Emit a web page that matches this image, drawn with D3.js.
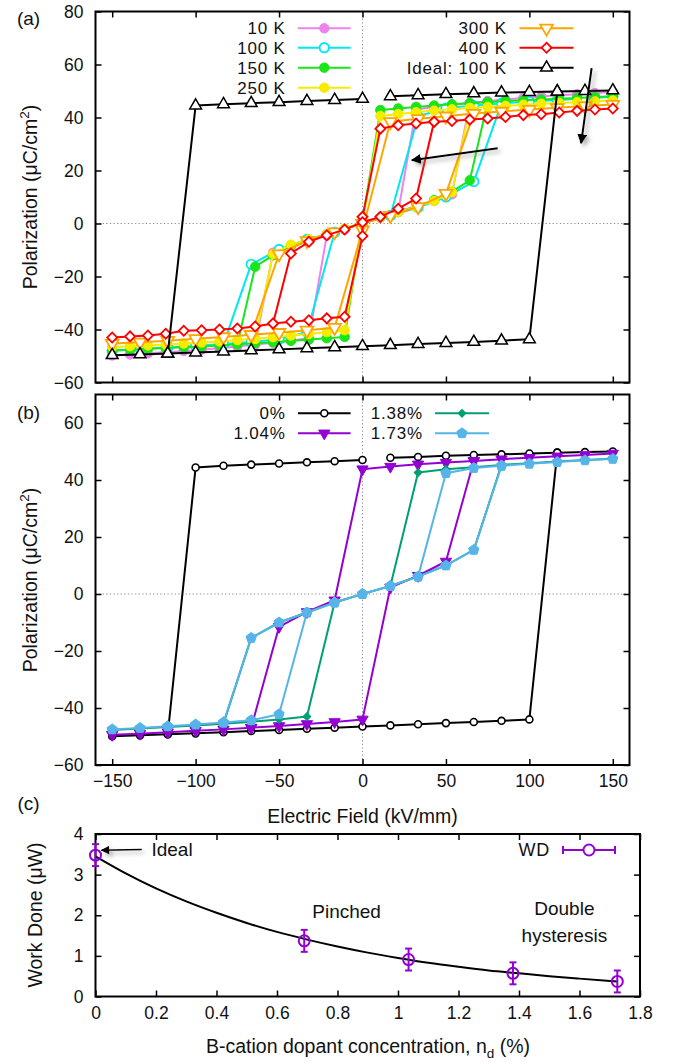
<!DOCTYPE html>
<html><head><meta charset="utf-8">
<script src="https://cdn.jsdelivr.net/npm/d3@7"></script>
<style>
body{margin:0;background:#fff}
svg{display:block}
text{font-family:"Liberation Sans",Arial,Helvetica,sans-serif;fill:#111}
</style>
</head><body>
<svg id="chart" width="677" height="1062"></svg>
<script>
// ---------------- DATA ----------------
// Panel (a): polarization loops, [E (kV/mm), P (uC/cm^2)], null = pen up
const tempLabels = ["10 K", "100 K", "150 K", "250 K", "300 K", "400 K", "Ideal: 100 K"];
const loop10K = [[150,49.6],[139.3,49.2],[128.6,48.8],[117.9,48.4],[107.1,47.9],[96.4,47.4],[85.7,46.8],[75,46.2],[64.3,45.5],[53.6,44.8],[42.9,44.0],[32.1,43.0],
  [21.4,4.5],[10.7,2.3],[0,0.3],[-10.7,-2.3],[-21.4,-4.5],[-32.1,-6.5],[-42.9,-8.5],[-53.6,-11.0],
  [-64.3,-45.7],[-75,-46.4],[-85.7,-47.0],[-96.4,-47.6],[-107.1,-48.1],[-117.9,-48.6],[-128.6,-49.0],[-139.3,-49.4],[-150,-49.8], null,
  [-64.3,-45.7],[-53.6,-45.0],[-42.9,-44.2],[-32.1,-43.2],[-21.4,-4.5],[-10.7,-2.3],[0,0.3],[10.7,2.3],[21.4,4.5],[32.1,6.5],[42.9,8.5],[53.6,11.0],[64.3,45.5]];
const loop100K = [[150,47.8],[133.3,47.2],[116.7,46.6],[100,46.0],[83.3,45.3],[66.7,44.5],[50,43.5],[33.3,40.5],
  [16.7,3.0],[0,0.0],[-16.7,-3.3],[-33.3,-6.0],[-50,-9.8],[-66.7,-15.4],
  [-83.3,-45.5],[-100,-46.2],[-116.7,-46.8],[-133.3,-47.4],[-150,-48.0], null,
  [-83.3,-45.5],[-66.7,-44.7],[-50,-43.7],[-33.3,-41.0],[-16.7,-3.3],[0,0.0],[16.7,3.0],[33.3,6.0],[50,10.0],[66.7,15.8],[83.3,45.3]];
const loop150K = [[150,48.0],[139.3,47.7],[128.6,47.4],[117.9,47.1],[107.1,46.8],[96.4,46.5],[85.7,46.2],[75,45.8],[64.3,45.4],[53.6,45.0],[42.9,44.5],[32.1,44.0],[21.4,43.4],[10.7,42.8],
  [0,1.0],[-10.7,-42.8],[-21.4,-43.3],[-32.1,-43.8],[-42.9,-44.3],[-53.6,-44.8],[-64.3,-45.2],[-75,-45.6],[-85.7,-46.0],[-96.4,-46.4],[-107.1,-46.7],[-117.9,-47.0],[-128.6,-47.3],[-139.3,-47.6],[-150,-47.9], null,
  [-75,-45.6],[-64.3,-16.3],[-53.6,-12.0],[-42.9,-8.5],[-32.1,-6.0],[-21.4,-4.0],[-10.7,-2.0],[0,0.3],[10.7,2.3],[21.4,4.3],[32.1,6.3],[42.9,8.8],[53.6,12.0],[64.3,16.3],[75,45.8]];
const loop250K = [[150,46.4],[139.3,46.1],[128.6,45.8],[117.9,45.5],[107.1,45.2],[96.4,44.8],[85.7,44.4],[75,44.0],[64.3,43.6],[53.6,43.1],[42.9,42.6],[32.1,42.0],[21.4,41.3],[10.7,40.6],
  [0,0.0],[-10.7,-40.3],[-21.4,-41.0],[-32.1,-41.7],[-42.9,-42.3],[-53.6,-42.9],[-64.3,-43.5],[-75,-44.0],[-85.7,-44.5],[-96.4,-44.9],[-107.1,-45.3],[-117.9,-45.7],[-128.6,-46.0],[-139.3,-46.3],[-150,-46.6], null,
  [-64.3,-43.5],[-53.6,-11.5],[-42.9,-8.0],[-32.1,-6.0],[-21.4,-4.0],[-10.7,-2.0],[0,0.3],[10.7,2.3],[21.4,4.3],[32.1,6.3],[42.9,8.5],[53.6,11.8],[64.3,43.6]];
const loop300K = [[150,44.9],[133.3,44.3],[116.7,43.7],[100,43.0],[83.3,42.3],[66.7,41.5],[50,40.5],[33.3,39.5],[16.7,38.4],
  [0,-2.5],[-16.7,-39.3],[-33.3,-40.3],[-50,-41.2],[-66.7,-42.0],[-83.3,-42.8],[-100,-43.5],[-116.7,-44.2],[-133.3,-44.8],[-150,-45.3], null,
  [-66.7,-42.0],[-50,-11.5],[-33.3,-6.5],[-16.7,-3.2],[0,0.0],[16.7,3.0],[33.3,6.3],[50,11.3],[66.7,41.5]];
const loop400K = [[150,43.4],[139.3,43.0],[128.6,42.5],[117.9,41.9],[107.1,41.2],[96.4,40.9],[85.7,40.2],[75,39.6],[64.3,39.2],[53.6,38.7],[42.9,38.4],[32.1,37.7],[21.4,37.1],[10.7,35.8],
  [0,2.5],[0,-4.7],[-10.7,-35.2],[-21.4,-35.8],[-32.1,-36.5],[-42.9,-37.1],[-53.6,-37.7],[-64.3,-38.9],[-75,-39.6],[-85.7,-40.0],[-96.4,-40.3],[-107.1,-40.5],[-117.9,-41.6],[-128.6,-42.3],[-139.3,-42.6],[-150,-43.0], null,
  [-53.6,-37.7],[-42.9,-11.3],[-32.1,-6.9],[-21.4,-4.4],[-10.7,-2.3],[0,0.5],[10.7,2.5],[21.4,5.6],[32.1,9.4],[42.9,38.4]];
const loopIdeal = [[0,47.0],[-16.7,46.6],[-33.3,46.2],[-50,45.8],[-66.7,45.4],[-83.3,45.0],[-100,44.5],[-116.7,-49.1],[-133.3,-49.4],[-150,-49.7], null,
  [-116.7,-49.1],[-100,-48.7],[-83.3,-48.3],[-66.7,-47.9],[-50,-47.5],[-33.3,-47.1],[-16.7,-46.7],[0,-46.3],[16.7,-45.9],[33.3,-45.5],[50,-45.1],[66.7,-44.7],[83.3,-44.2],[100,-43.7],[116.7,49.8],[133.3,50.0],[150,50.2], null,
  [116.7,49.8],[100,49.6],[83.3,49.4],[66.7,49.1],[50,48.8],[33.3,48.4],[16.7,48.0]];

// Panel (b): doping loops
const dopLabels = ["0%", "1.04%", "1.38%", "1.73%"];
const loop0 = [[0,47.0],[-16.7,46.6],[-33.3,46.2],[-50,45.8],[-66.7,45.4],[-83.3,45.0],[-100,44.4],[-116.7,-49.2],[-133.3,-49.6],[-150,-49.9], null,
  [-116.7,-49.2],[-100,-48.9],[-83.3,-48.5],[-66.7,-48.1],[-50,-47.7],[-33.3,-47.3],[-16.7,-46.9],[0,-46.5],[16.7,-46.1],[33.3,-45.7],[50,-45.3],[66.7,-44.9],[83.3,-44.5],[100,-44.0],[116.7,49.6],[133.3,49.8],[150,50.0], null,
  [116.7,49.6],[100,49.3],[83.3,49.0],[66.7,48.8],[50,48.5],[33.3,48.1],[16.7,47.8]];
const loop104 = [[150,49.3],[133.3,48.8],[116.7,48.3],[100,47.8],[83.3,47.3],[66.7,46.7],[50,46.1],[33.3,45.5],[16.7,44.7],[0,43.8],
  [-16.7,-2.2],[-33.3,-6.3],[-50,-11.5],[-66.7,-46.9],[-83.3,-47.5],[-100,-48.0],[-116.7,-48.5],[-133.3,-49.0],[-150,-49.4], null,
  [-66.7,-46.9],[-50,-46.3],[-33.3,-45.6],[-16.7,-44.9],[0,-44.0],[16.7,2.3],[33.3,6.4],[50,11.4],[66.7,46.7]];
const loop138 = [[150,47.5],[133.3,47.0],[116.7,46.5],[100,45.9],[83.3,45.3],[66.7,44.5],[50,43.8],[33.3,42.6],
  [16.7,2.8],[0,0.0],[-16.7,-3.0],[-33.3,-6.5],[-50,-10.0],[-66.7,-15.4],[-83.3,-45.5],[-100,-46.1],[-116.7,-46.7],[-133.3,-47.2],[-150,-47.7], null,
  [-83.3,-45.5],[-66.7,-44.8],[-50,-44.0],[-33.3,-43.0],[-16.7,-3.0],[0,0.0],[16.7,2.8],[33.3,6.2],[50,10.0],[66.7,15.5],[83.3,45.3]];
const loop173 = [[150,47.4],[133.3,46.9],[116.7,46.3],[100,45.7],[83.3,45.0],[66.7,44.2],[50,42.4],
  [33.3,6.1],[16.7,2.8],[0,0.0],[-16.7,-3.0],[-33.3,-6.5],[-50,-10.0],[-66.7,-15.4],[-83.3,-45.1],[-100,-45.8],[-116.7,-46.4],[-133.3,-47.0],[-150,-47.5], null,
  [-83.3,-45.1],[-66.7,-44.3],[-50,-42.2],[-33.3,-6.5],[-16.7,-3.0],[0,0.0],[16.7,2.8],[33.3,6.1],[50,10.0],[66.7,15.5],[83.3,45.0]];

// Panel (c): work done vs dopant concentration
const wdConc = [0, 0.69, 1.035, 1.38, 1.725];
const wdValue = [3.48, 1.37, 0.91, 0.57, 0.37];
const wdError = [0.27, 0.27, 0.27, 0.27, 0.27];
const fitConc = [0, 0.1, 0.2, 0.3, 0.4, 0.5, 0.6, 0.7, 0.8, 0.9, 1.0, 1.1, 1.2, 1.3, 1.4, 1.5, 1.6, 1.725];
const fitValue = [3.45, 3.03, 2.66, 2.34, 2.06, 1.81, 1.59, 1.40, 1.23, 1.08, 0.95, 0.83, 0.73, 0.64, 0.57, 0.50, 0.44, 0.37];

// Tick values
const fieldTicks = [-150, -100, -50, 0, 50, 100, 150];
const polTicksA = [-60, -40, -20, 0, 20, 40, 60, 80];
const polTicksB = [-60, -40, -20, 0, 20, 40, 60];
const concTicks = [0, 0.2, 0.4, 0.6, 0.8, 1.0, 1.2, 1.4, 1.6, 1.8];
const wdTicks = [0, 1, 2, 3, 4];

// ---------------- DRAWING ----------------
const svg = d3.select("#chart");
const defs = svg.append("defs");
defs.append("marker").attr("id","ah").attr("viewBox","0 0 10 10").attr("refX",9).attr("refY",5)
  .attr("markerWidth",5).attr("markerHeight",5).attr("orient","auto")
  .append("path").attr("d","M0,0 L10,5 L0,10 z").attr("fill","#000");
defs.append("marker").attr("id","ah2").attr("viewBox","0 0 10 10").attr("refX",9).attr("refY",5)
  .attr("markerWidth",7).attr("markerHeight",6).attr("orient","auto")
  .append("path").attr("d","M0,0 L10,5 L0,10 z").attr("fill","#000");
const shadow = defs.append("filter").attr("id","sh").attr("filterUnits","userSpaceOnUse")
  .attr("x",0).attr("y",0).attr("width",677).attr("height",1062);
shadow.append("feDropShadow").attr("dx",3).attr("dy",3).attr("stdDeviation",2).attr("flood-color","#777").attr("flood-opacity",0.6);

const symbolPentagon = {draw(ctx, size){ const r = Math.sqrt(size/2.378);
  for(let i=0;i<5;i++){const a=-Math.PI/2+i*2*Math.PI/5; const px=r*Math.cos(a), py=r*Math.sin(a); if(i) ctx.lineTo(px,py); else ctx.moveTo(px,py);} ctx.closePath(); }};

const PA = {l:95.5, r:629.5, t:11.5, b:382.5};
const PB = {l:95.5, r:629.5, t:394.5, b:765};
const PC = {l:95.5, r:640, t:834, b:996.5};

const xA = d3.scaleLinear().domain([-160,160]).range([PA.l, PA.r]);
const yA = d3.scaleLinear().domain([-60,80]).range([PA.b, PA.t]);
const xB = d3.scaleLinear().domain([-160,160]).range([PB.l, PB.r]);
const yB = d3.scaleLinear().domain([-60,70]).range([PB.b, PB.t]);
const xC = d3.scaleLinear().domain([0,1.8]).range([PC.l, PC.r]);
const yC = d3.scaleLinear().domain([0,4]).range([PC.b, PC.t]);

const TICKFS = 17.5;
function frame(P, xs, ys, xt, yt, xLabels, xfmt) {
  const g = svg.append("g");
  const tick = 6;
  const ax = [
    [d3.axisBottom(xs).tickValues(xt).tickSize(-tick).tickPadding(10).tickFormat(xLabels ? xfmt : ""), `translate(0,${P.b})`],
    [d3.axisTop(xs).tickValues(xt).tickSize(-tick).tickFormat(""), `translate(0,${P.t})`],
    [d3.axisLeft(ys).tickValues(yt).tickSize(-tick).tickPadding(12).tickFormat(d3.format("d")), `translate(${P.l},0)`],
    [d3.axisRight(ys).tickValues(yt).tickSize(-tick).tickFormat(""), `translate(${P.r},0)`]
  ];
  ax.forEach(([a, tr]) => {
    const gg = g.append("g").attr("transform", tr).call(a);
    gg.select(".domain").remove();
    gg.selectAll(".tick line").attr("stroke","#000").attr("stroke-width",1.5);
    gg.selectAll(".tick text").attr("font-size",TICKFS).attr("fill","#111").attr("font-family","Liberation Sans, Arial, sans-serif");
  });
  return g;
}
function border(P) {
  svg.append("rect").attr("x",P.l).attr("y",P.t).attr("width",P.r-P.l).attr("height",P.b-P.t)
    .attr("fill","none").attr("stroke","#000").attr("stroke-width",2);
}
function zeroLines(P, xs, ys) {
  const g = svg.append("g").attr("stroke","#888").attr("stroke-width",1).attr("stroke-dasharray","1.2,2.4");
  g.append("line").attr("x1",P.l).attr("x2",P.r).attr("y1",ys(0)).attr("y2",ys(0));
  g.append("line").attr("x1",xs(0)).attr("x2",xs(0)).attr("y1",P.t).attr("y2",P.b);
}
function markerPath(st){ return d3.symbol().type(st.type).size(st.size)(); }
function drawMarker(g, px, py, st) {
  g.append("path").attr("d", markerPath(st))
    .attr("transform", `translate(${px},${py})` + (st.rot ? ` rotate(${st.rot})` : ""))
    .attr("fill", st.open ? "#fff" : st.color).attr("stroke", st.color).attr("stroke-width", st.mlw);
}
function drawSeries(xs, ys, pts, st) {
  const g = svg.append("g");
  const line = d3.line().defined(d => d !== null).x(d => xs(d[0])).y(d => ys(d[1]));
  g.append("path").datum(pts).attr("d", line).attr("fill","none").attr("stroke", st.color)
    .attr("stroke-width", st.lw).attr("stroke-linejoin","round");
  pts.filter(d => d !== null).forEach(d => drawMarker(g, xs(d[0]), ys(d[1]), st));
}
const LFS = 17;
function legendEntry(tx, ty, x1, x2, label, st) {
  svg.append("text").attr("x", tx).attr("y", ty + LFS*0.36).attr("text-anchor","end").attr("font-size", LFS)
    .attr("letter-spacing", 0.8).text(label);
  svg.append("line").attr("x1",x1).attr("x2",x2).attr("y1",ty).attr("y2",ty).attr("stroke",st.color).attr("stroke-width",st.lw);
  drawMarker(svg, (x1+x2)/2, ty, st);
}

// ---- Panel (a)
const stylesA = [
  {color:"#ee82ee", lw:2, type:d3.symbolCircle, size:70, open:false, mlw:1},
  {color:"#00e8f0", lw:2, type:d3.symbolCircle, size:70, open:true, mlw:1.8},
  {color:"#19e619", lw:2, type:d3.symbolCircle, size:70, open:false, mlw:1},
  {color:"#f5ec00", lw:2, type:d3.symbolCircle, size:70, open:false, mlw:1},
  {color:"#ffa500", lw:2, type:d3.symbolTriangle, size:70, rot:180, open:true, mlw:1.8},
  {color:"#ff0000", lw:2, type:d3.symbolSquare, size:50, rot:45, open:true, mlw:1.8},
  {color:"#000000", lw:2, type:d3.symbolTriangle, size:60, open:true, mlw:1.5}
];
const loopsA = [loop10K, loop100K, loop150K, loop250K, loop300K, loop400K, loopIdeal];
zeroLines(PA, xA, yA);
frame(PA, xA, yA, fieldTicks, polTicksA, false);
border(PA);
loopsA.forEach((d,i) => drawSeries(xA, yA, d, stylesA[i]));

// arrows in (a)
const arrA = [[[81,28.4],[29.6,23.9]], [[137.3,58.6],[131,30.3]]];
arrA.forEach(([p0,p1]) => {
  svg.append("line").attr("x1",xA(p0[0])).attr("y1",yA(p0[1])).attr("x2",xA(p1[0])).attr("y2",yA(p1[1]))
    .attr("stroke","#000").attr("stroke-width",2).attr("marker-end","url(#ah)").attr("filter","url(#sh)");
});

// legend (a)
const rowsA = [28.3, 47.7, 67.7, 87.7];
for (let i=0;i<4;i++) legendEntry(285.7, rowsA[i], 298, 350.6, tempLabels[i], stylesA[i]);
for (let i=4;i<7;i++) legendEntry(507, rowsA[i-4], 519.5, 573.6, tempLabels[i], stylesA[i]);

// ---- Panel (b)
const stylesB = [
  {color:"#000000", lw:2, type:d3.symbolCircle, size:38, open:true, mlw:1.6},
  {color:"#9400d3", lw:2, type:d3.symbolTriangle, size:55, rot:180, open:false, mlw:1},
  {color:"#009e73", lw:2, type:d3.symbolSquare, size:30, rot:45, open:false, mlw:1},
  {color:"#56b4e9", lw:2, type:symbolPentagon, size:70, open:false, mlw:1}
];
const loopsB = [loop0, loop104, loop138, loop173];
zeroLines(PB, xB, yB);
frame(PB, xB, yB, fieldTicks, polTicksB, true, d3.format("d"));
border(PB);
loopsB.forEach((d,i) => drawSeries(xB, yB, d, stylesB[i]));
legendEntry(285.7, 413.3, 298, 350.6, dopLabels[0], stylesB[0]);
legendEntry(285.7, 433.3, 298, 350.6, dopLabels[1], stylesB[1]);
legendEntry(423, 413.3, 435, 489, dopLabels[2], stylesB[2]);
legendEntry(423, 433.3, 435, 489, dopLabels[3], stylesB[3]);

// ---- Panel (c)
frame(PC, xC, yC, concTicks, wdTicks, true, d3.format("~g"));
border(PC);
const fitPts = fitConc.map((c,i) => [c, fitValue[i]]);
svg.append("path").datum(fitPts).attr("d", d3.line().curve(d3.curveMonotoneX).x(d=>xC(d[0])).y(d=>yC(d[1])))
  .attr("fill","none").attr("stroke","#000").attr("stroke-width",2);
const wdColor = "#9400d3";
const gWD = svg.append("g").attr("stroke", wdColor).attr("stroke-width",2);
wdConc.forEach((c,i) => {
  const px = xC(c), y0 = yC(wdValue[i]-wdError[i]), y1 = yC(Math.min(wdValue[i]+wdError[i], 4));
  gWD.append("line").attr("x1",px).attr("x2",px).attr("y1",y0).attr("y2",y1);
  gWD.append("line").attr("x1",px-3.5).attr("x2",px+3.5).attr("y1",y0).attr("y2",y0);
  gWD.append("line").attr("x1",px-3.5).attr("x2",px+3.5).attr("y1",y1).attr("y2",y1);
  gWD.append("circle").attr("cx",px).attr("cy",yC(wdValue[i])).attr("r",5.5).attr("fill","none");
});
// legend (c)
svg.append("text").attr("x",550).attr("y",850+LFS*0.36).attr("text-anchor","end").attr("font-size",LFS+1)
  .attr("letter-spacing",0.8).text("WD");
const gL = svg.append("g").attr("stroke", wdColor).attr("stroke-width",2);
gL.append("line").attr("x1",563).attr("x2",615).attr("y1",850).attr("y2",850);
gL.append("line").attr("x1",563).attr("x2",563).attr("y1",846).attr("y2",854);
gL.append("line").attr("x1",615).attr("x2",615).attr("y1",846).attr("y2",854);
gL.append("circle").attr("cx",589).attr("cy",850).attr("r",5.5).attr("fill","#fff");

// annotations (c)
svg.append("line").attr("x1",xC(0.153)).attr("y1",yC(3.62)).attr("x2",xC(0.02)).attr("y2",yC(3.60))
  .attr("stroke","#000").attr("stroke-width",1.4).attr("marker-end","url(#ah2)").attr("filter","url(#sh)");
const annFont = "Lato, 'Open Sans', sans-serif";
svg.append("text").attr("x",xC(0.185)).attr("y",yC(3.62)+6.5).attr("font-family",annFont).attr("font-size",19).text("Ideal");
svg.append("text").attr("x",xC(0.83)).attr("y",yC(2.09)+6.5).attr("text-anchor","middle").attr("font-family",annFont).attr("font-size",19).text("Pinched");
svg.append("text").attr("x",xC(1.55)).attr("y",yC(2.17)+6.5).attr("text-anchor","middle").attr("font-family",annFont).attr("font-size",19).text("Double");
svg.append("text").attr("x",xC(1.55)).attr("y",yC(1.51)+6.5).attr("text-anchor","middle").attr("font-family",annFont).attr("font-size",19).text("hysteresis");

// ---- titles & panel labels
const TFS = 19.5;
function yTitle(cx, cy, main, sup, tail) {
  const t = svg.append("text").attr("transform",`translate(${cx},${cy}) rotate(-90)`).attr("text-anchor","middle").attr("font-size",TFS);
  t.append("tspan").text(main);
  if (sup) { t.append("tspan").attr("dy",-8).attr("font-size",13.5).text(sup); t.append("tspan").attr("dy",8).text(tail); }
}
yTitle(37, 197, "Polarization (\u03bcC/cm", "2", ")");
yTitle(37, 580, "Polarization (\u03bcC/cm", "2", ")");
yTitle(42, 915, "Work Done (\u03bcW)");
svg.append("text").attr("x",362.5).attr("y",823).attr("text-anchor","middle").attr("font-size",TFS).text("Electric Field (kV/mm)");
const xt = svg.append("text").attr("x",368).attr("y",1053).attr("text-anchor","middle").attr("font-size",TFS);
xt.append("tspan").text("B-cation dopant concentration, n");
xt.append("tspan").attr("dy",5).attr("font-size",13.5).text("d");
xt.append("tspan").attr("dy",-5).text(" (%)");
[["(a)",25],["(b)",419],["(c)",810]].forEach(([s,y]) =>
  svg.append("text").attr("x",28.5).attr("y",y).attr("text-anchor","middle").attr("font-size",19).text(s));
</script>
</body></html>
